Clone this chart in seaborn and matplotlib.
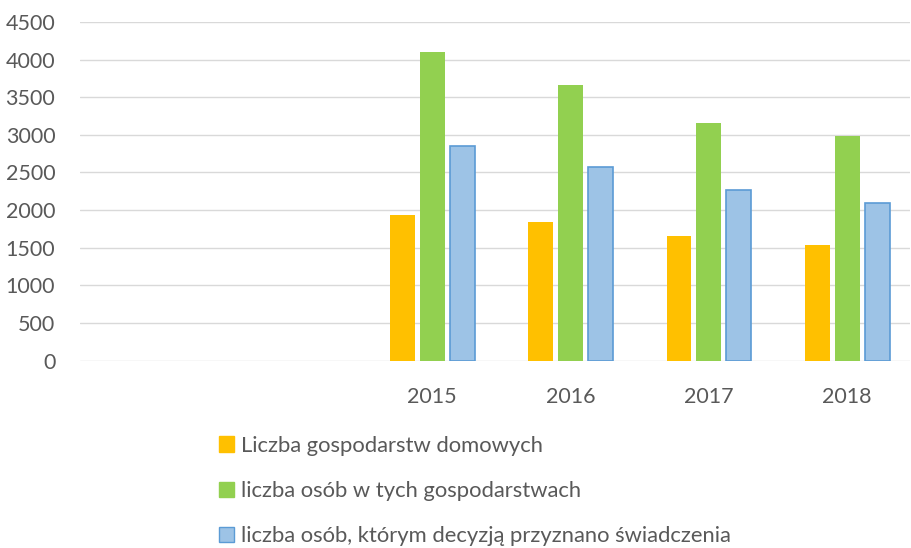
import pandas as pd
import seaborn as sns
import matplotlib.pyplot as plt
from matplotlib.patches import Patch

years = ["2015", "2016", "2017", "2018"]
series = ["Liczba gospodarstw domowych",
          "liczba osób w tych gospodarstwach",
          "liczba osób, którym decyzją przyznano świadczenia"]
households = [1930, 1845, 1655, 1535]
persons = [4095, 3665, 3155, 2990]
granted = [2850, 2575, 2265, 2095]
colors = ["#FFC000", "#92D050", "#9DC3E6"]

df = pd.DataFrame({"rok": years * 3,
                   "seria": [s for s in series for _ in years],
                   "wartosc": households + persons + granted})

sns.set_style("white")
plt.rcParams['font.family'] = ['Lato', 'DejaVu Sans']

fig = plt.figure(figsize=(9.12, 5.48), dpi=100)
ax = fig.add_axes([0.088, 0.342, 0.91, 0.618])

sns.barplot(data=df, x="rok", y="wartosc", hue="seria", order=years,
            hue_order=series, palette=colors, saturation=1, width=0.65, gap=0.17,
            linewidth=0, legend=False, ax=ax)
for bar in ax.containers[2]:
    bar.set_edgecolor("#5B9BD5")
    bar.set_linewidth(1.2)

# two empty category slots on the left
ax.set_xlim(-2.545, 3.455)
ax.set_ylim(0, 4500)
ax.set_yticks(range(0, 4501, 500))
ax.grid(axis="y", color="#D9D9D9", linewidth=1)
ax.set_axisbelow(True)
sns.despine(ax=ax, left=True, bottom=True)
ax.set_xlabel("")
ax.set_ylabel("")
ax.tick_params(axis="y", length=0, pad=18, labelsize=15.5, labelcolor="#595959")
ax.tick_params(axis="x", length=0, pad=19, labelsize=15.5, labelcolor="#595959")

handles = [Patch(facecolor=colors[0], edgecolor=colors[0]),
           Patch(facecolor=colors[1], edgecolor=colors[1]),
           Patch(facecolor=colors[2], edgecolor="#5B9BD5")]
leg = fig.legend(handles, series, loc="upper left", bbox_to_anchor=(0.24, 0.205),
                 frameon=False, fontsize=15.8, labelspacing=1.15,
                 handlelength=0.7, handleheight=0.7, handletextpad=0.3,
                 borderpad=0, borderaxespad=0)
for t in leg.get_texts():
    t.set_color("#595959")

fig.savefig("out.png", dpi=100)
